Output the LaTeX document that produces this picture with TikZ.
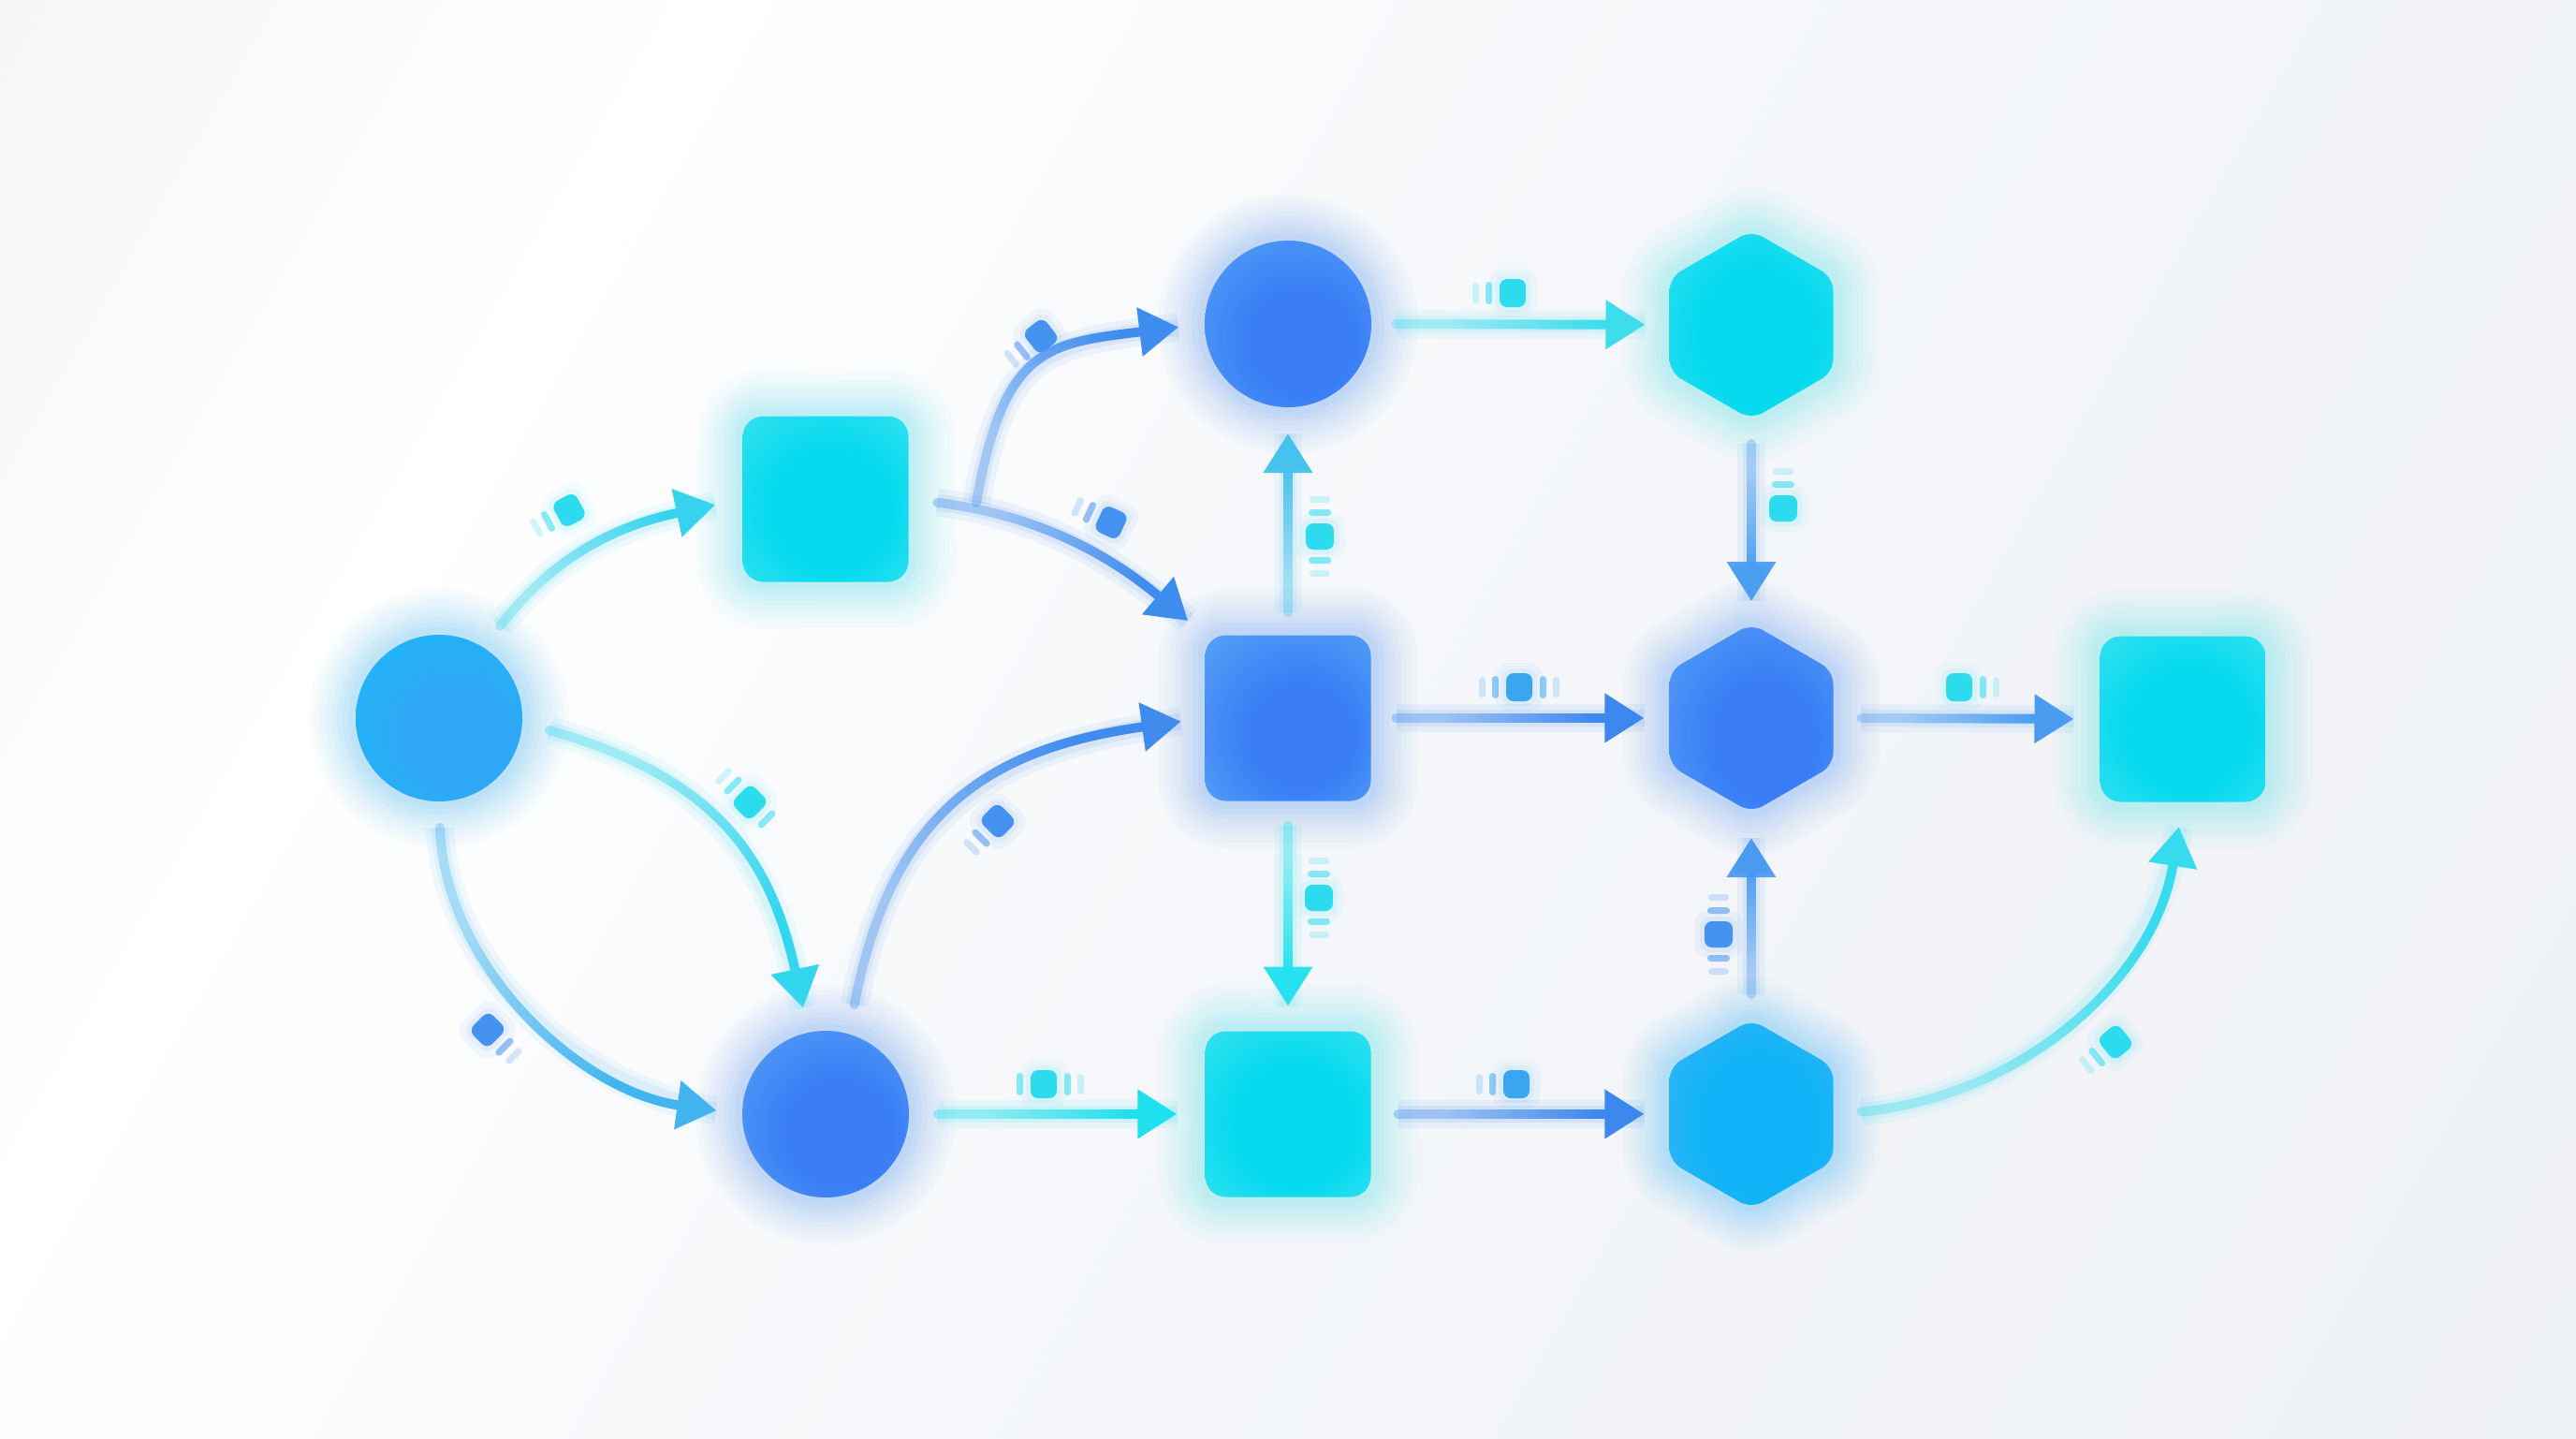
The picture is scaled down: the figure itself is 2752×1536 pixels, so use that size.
\documentclass[tikz,border=0pt]{standalone}
\usetikzlibrary{arrows.meta,shapes.geometric,fadings}
\newlength\px \setlength\px{0.01cm}
% background
\definecolor{bg1}{HTML}{E8ECF0}
\definecolor{bg2}{HTML}{F5F7FA}
\definecolor{bg3}{HTML}{EBEEF2}
% node fills
\definecolor{cyIn}{HTML}{05D9EE}
\definecolor{cyOut}{HTML}{3EE3F0}
\definecolor{blIn}{HTML}{3A7DF6}
\definecolor{blOut}{HTML}{5AA8F6}
\definecolor{aIn}{HTML}{30A6F6}
\definecolor{aOut}{HTML}{1ABDF8}
\definecolor{jIn}{HTML}{10B3F7}
\definecolor{jOut}{HTML}{45B6F4}
% glows
\definecolor{glC}{HTML}{3FDDF0}
\definecolor{glB}{HTML}{4E95F5}
\definecolor{glA}{HTML}{2FB0F8}
\definecolor{glJ}{HTML}{2AB0F6}
% arrows
\definecolor{arAB}{HTML}{35D3EE}
\definecolor{arAHr}{HTML}{32D6EF}
\definecolor{arAHl}{HTML}{42B4F0}
\definecolor{arBE}{HTML}{3E8CEE}
\definecolor{arBC}{HTML}{3F8DEE}
\definecolor{arHE}{HTML}{3F8CEE}
\definecolor{arHI}{HTML}{1FE0EE}
\definecolor{arIJ}{HTML}{3D88EE}
\definecolor{arEF}{HTML}{3D88EE}
\definecolor{arFG}{HTML}{4A9CF0}
\definecolor{arCD}{HTML}{3EDDEE}
\definecolor{arEC}{HTML}{45C2EE}
\definecolor{arDF}{HTML}{4A9DF0}
\definecolor{arEI}{HTML}{25E2EE}
\definecolor{arJF}{HTML}{4A9AF0}
\definecolor{arJG}{HTML}{36DCEE}
% icons
\definecolor{icC}{HTML}{2CDCEE}
\definecolor{icB}{HTML}{4592F0}
\definecolor{icB2}{HTML}{3AA6F2}

\pgfdeclarehorizontalshading{bgsh}{100bp}{color(0bp)=(bg1); color(30bp)=(white); color(50bp)=(bg2); color(100bp)=(bg3)}
\pgfdeclareradialshading{shCy}{\pgfpoint{3bp}{-5bp}}{color(0bp)=(cyIn); color(18bp)=(cyIn); color(42bp)=(cyOut); color(50bp)=(cyOut)}
\pgfdeclareradialshading{shBl}{\pgfpoint{6bp}{-8bp}}{color(0bp)=(blIn); color(16bp)=(blIn); color(42bp)=(blOut); color(50bp)=(blOut)}
\pgfdeclareradialshading{shA}{\pgfpoint{8bp}{-8bp}}{color(0bp)=(aIn); color(14bp)=(aIn); color(42bp)=(aOut); color(50bp)=(aOut)}
\pgfdeclareradialshading{shJ}{\pgfpoint{4bp}{-4bp}}{color(0bp)=(jIn); color(18bp)=(jIn); color(42bp)=(jOut); color(50bp)=(jOut)}
\tikzfading[name=flowfade, left color=transparent!65, right color=transparent!0]

\tikzset{
  base/.style={inner sep=0pt, outer sep=0pt, shade, line join=round},
  glow/.style={preaction={draw=#1, line width=100\px, opacity=.03},
               preaction={draw=#1, line width=88\px, opacity=.03},
               preaction={draw=#1, line width=76\px, opacity=.035},
               preaction={draw=#1, line width=64\px, opacity=.04},
               preaction={draw=#1, line width=52\px, opacity=.045},
               preaction={draw=#1, line width=40\px, opacity=.05},
               preaction={draw=#1, line width=28\px, opacity=.055},
               preaction={draw=#1, line width=16\px, opacity=.06}},
  sq/.style={base, rectangle, rounded corners=22\px, minimum size=177\px},
  ci/.style={base, circle, minimum size=178\px},
  hx/.style={base, regular polygon, regular polygon sides=6, shape border rotate=30,
     minimum size=202\px, rounded corners=14\px},
  flow/.style={draw=#1, line width=0.1cm, line cap=round,
     -{Triangle[length=0.42cm, width=0.5cm]},
     preaction={draw=#1, line width=0.3cm, opacity=.08, -},
     preaction={draw=#1, line width=0.18cm, opacity=.10, -}},
  fd/.style n args={4}{path fading=flowfade, fit fading=false,
     fading transform={shift={(#1,#2)}, rotate=#3, xscale=#4, yscale=1.6}},
  pics/pkt/.style n args={3}{code={
    \fill[#1, opacity=.06, rounded corners=14\px] (-25\px,-26\px) rectangle (25\px,26\px);
    \fill[#1, opacity=.08, rounded corners=11\px] (-19\px,-20\px) rectangle (19\px,20\px);
    \fill[#1, rounded corners=8\px] (-14\px,-15\px) rectangle (14\px,15\px);
    \ifnum#2>0 \fill[#1, opacity=.55, rounded corners=3.5\px] (-29\px,-12\px) rectangle (-22\px,12\px);\fi
    \ifnum#2>1 \fill[#1, opacity=.22, rounded corners=3.5\px] (-43\px,-11\px) rectangle (-36\px,11\px);\fi
    \ifnum#3>0 \fill[#1, opacity=.55, rounded corners=3.5\px] (22\px,-12\px) rectangle (29\px,12\px);\fi
    \ifnum#3>1 \fill[#1, opacity=.22, rounded corners=3.5\px] (36\px,-11\px) rectangle (43\px,11\px);\fi
  }}
}

\begin{document}
\begin{tikzpicture}[x=0.01cm, y=0.01cm]
\path[use as bounding box] (0,0) rectangle (2752,-1536);
\shade[shading=bgsh, shading angle=-30] (0,0) rectangle (2752,-1536);

% nodes
\node[ci, shading=shA,  glow=glA] (A) at (469,-767) {};
\node[sq, shading=shCy, glow=glC] (B) at (882,-533) {};
\node[ci, shading=shBl, glow=glB] (C) at (1376,-346) {};
\node[hx, shading=shCy, glow=glC] (D) at (1871,-347) {};
\node[sq, shading=shBl, glow=glB] (E) at (1376,-767) {};
\node[hx, shading=shBl, glow=glB] (F) at (1871,-767) {};
\node[sq, shading=shCy, glow=glC] (G) at (2332,-768) {};
\node[ci, shading=shBl, glow=glB] (H) at (882,-1190) {};
\node[sq, shading=shCy, glow=glC] (I) at (1376,-1190) {};
\node[hx, shading=shJ,  glow=glJ] (J) at (1871,-1190) {};

\coordinate (bj) at (1043,-537);

% curved connectors
\draw[flow=arAB, fd={647}{-598}{30.6}{0.93}, shorten <=0.29cm, shorten >=0.30cm] (A.58) to[out=52,in=192,looseness=1.05] (B.west);
\draw[flow=arAHr, fd={722}{-925}{-48.6}{1.32}, shorten <=0.30cm, shorten >=0.27cm] (A.-3) to[out=-16,in=102,looseness=1.15] (H.102);
\draw[flow=arAHl, fd={617}{-1036}{-46}{1.38}, shorten <=0.28cm, shorten >=0.28cm] (A.south) to[out=-88,in=172,looseness=0.97] (H.west);
\draw[flow=arBE, fd={1135}{-598}{-25.7}{1.02}, shorten <=0.31cm, shorten >=0.24cm] (B.east) to[out=-7,in=140] (E.north west);
\draw[flow=arBC, fd={1151}{-441}{41.5}{0.99}, shorten >=0.28cm] (bj) to[out=80,in=187,looseness=1.4] (C.west);
\draw[flow=arHE, fd={1088}{-917}{42}{1.5}, shorten <=0.32cm, shorten >=0.26cm] (H.74) to[out=79,in=188,looseness=1.2] (E.west);
\draw[flow=arJG, fd={2160}{-1037}{41.8}{1.48}, shorten <=0.30cm, shorten >=0.27cm] (J.east) to[out=5,in=261,looseness=1.0] (G.south);

% straight connectors
\draw[flow=arCD, fd={1624}{-347}{0}{0.93}, shorten <=0.26cm, shorten >=0.26cm] (C.east) -- (D.west);
\draw[flow=arEF, fd={1624}{-767}{0}{0.92}, shorten <=0.27cm, shorten >=0.27cm] (E.east) -- (F.west);
\draw[flow=arFG, fd={2102}{-767}{0}{0.82}, shorten <=0.30cm, shorten >=0.28cm] (F.east) -- (G.west);
\draw[flow=arHI, fd={1129}{-1190}{0}{0.90}, shorten <=0.31cm, shorten >=0.30cm] (H.east) -- (I.west);
\draw[flow=arIJ, fd={1625}{-1190}{0}{0.92}, shorten <=0.29cm, shorten >=0.27cm] (I.east) -- (J.west);
\draw[flow=arEC, fd={1376}{-558}{90}{0.72}, shorten <=0.24cm, shorten >=0.28cm] (E.north) -- (C.south);
\draw[flow=arDF, fd={1871}{-557}{-90}{0.65}, shorten <=0.26cm, shorten >=0.24cm] (D.south) -- (F.north);
\draw[flow=arEI, fd={1376}{-978}{-90}{0.72}, shorten <=0.26cm, shorten >=0.27cm] (E.south) -- (I.north);
\draw[flow=arJF, fd={1871}{-978}{90}{0.65}, shorten <=0.27cm, shorten >=0.27cm] (J.north) -- (F.south);

% packet markers
\pic[rotate=28]  at (608,-545)   {pkt={icC}{2}{0}};
\pic[rotate=38]  at (1112,-359)  {pkt={icB}{2}{0}};
\pic[rotate=-25] at (1187,-558)  {pkt={icB}{2}{0}};
\pic[rotate=-45] at (801,-857)   {pkt={icC}{2}{1}};
\pic[rotate=135] at (521,-1100)  {pkt={icB}{2}{0}};
\pic[rotate=45]  at (1066,-877)  {pkt={icB}{2}{0}};
\pic             at (1115,-1158) {pkt={icC}{1}{2}};
\pic             at (1620,-1158) {pkt={icB2}{2}{0}};
\pic             at (1623,-734)  {pkt={icB2}{2}{2}};
\pic             at (2093,-734)  {pkt={icC}{0}{2}};
\pic             at (1616,-313)  {pkt={icC}{2}{0}};
\pic[rotate=90]  at (1410,-573)  {pkt={icC}{2}{2}};
\pic[rotate=-90] at (1905,-543)  {pkt={icC}{2}{0}};
\pic[rotate=-90] at (1409,-959)  {pkt={icC}{2}{2}};
\pic[rotate=90]  at (1836,-998)  {pkt={icB}{2}{2}};
\pic[rotate=39]  at (2260,-1113) {pkt={icC}{2}{0}};
\end{tikzpicture}
\end{document}
